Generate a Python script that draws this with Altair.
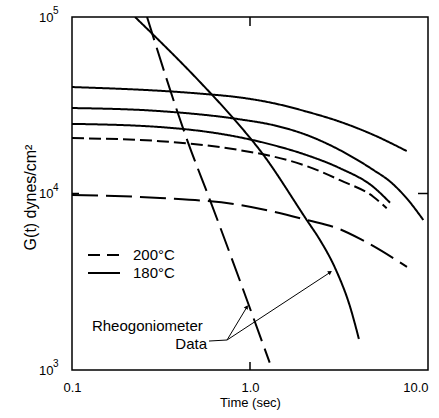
import altair as alt
import pandas as pd

FONT = "Liberation Sans"

# Stress relaxation modulus G(t) (dynes/cm^2) against time (s)
# 180 °C, solid curves
s1_t = [0.1, 0.524, 0.879, 1.352, 2.082, 3.204, 4.928, 7.59]
s1_g = [40100, 36800, 35000, 32500, 29100, 25500, 21500, 17400]
s2_t = [0.1, 0.312, 0.879, 1.352, 2.082, 3.204, 4.928, 6.116, 7.592, 9.41]
s2_g = [30500, 29300, 26300, 24400, 21450, 17600, 13600, 11700, 9390, 7080]
s3_t = [0.1, 0.312, 0.879, 1.352, 2.082, 3.204, 4.928, 6.116]
s3_g = [24800, 23800, 20800, 18800, 16500, 13900, 10900, 8870]
# 200 °C, dashed curves
d1_t = [0.1, 0.312, 0.879, 1.352, 2.082, 3.204, 4.928, 5.861]
d1_g = [20600, 19800, 17600, 16200, 14300, 11900, 9590, 8250]
d2_t = [0.1, 0.312, 0.879, 1.352, 2.082, 3.204, 4.26, 7.62]
d2_g = [9800, 9430, 8610, 7890, 7080, 6270, 5460, 3840]
# Rheogoniometer data
r180_t = [0.226, 0.524, 0.803, 1.168, 2.082, 2.47, 3.04, 3.65, 4.09]
r180_g = [100000, 42800, 26800, 16960, 7080, 5460, 3690, 2280, 1500]
r200_t = [0.264, 0.45, 0.596, 1.29]
r200_g = [100000, 19300, 9180, 1100]

series = [
    ("s1", s1_t, s1_g), ("s2", s2_t, s2_g), ("s3", s3_t, s3_g),
    ("d1", d1_t, d1_g), ("d2", d2_t, d2_g),
    ("r180", r180_t, r180_g), ("r200", r200_t, r200_g),
]
dash_domain = ["s1", "s2", "s3", "r180", "d1", "d2", "r200"]
dash_range = [[1, 0], [1, 0], [1, 0], [1, 0], [12, 5], [26, 8], [24, 8]]

rows = []
for name, ts, gs in series:
    for i, (t, g) in enumerate(zip(ts, gs)):
        rows.append({"series": name, "t": t, "g": g, "i": i})
curves = pd.DataFrame(rows)

x_scale = alt.Scale(type="log", domain=[0.1, 10])
y_scale = alt.Scale(type="log", domain=[1000, 100000])

lines = alt.Chart(curves).mark_line(
    color="black", strokeWidth=2, interpolate="monotone", clip=True
).encode(
    x=alt.X("t:Q", scale=x_scale, axis=alt.Axis(
        values=[0.1, 1, 10], format=".1f", ticks=False, domain=False, grid=False,
        labelPadding=11, labelFontSize=13, labelFont=FONT, labelColor="black",
        labelAlign={"condition": {"test": "datum.value >= 10", "value": "right"}, "value": "center"},
        title="Time (sec)", titleFont=FONT, titleFontSize=13, titleFontWeight="normal",
        titleColor="black", titleY=32, titleBaseline="middle",
    )),
    y=alt.Y("g:Q", scale=y_scale, axis=alt.Axis(
        values=[1000, 10000, 100000], labelExpr="'10'", ticks=False, domain=False,
        grid=False, labelPadding=19, labelFontSize=13, labelFont=FONT, labelColor="black",
        title="G(t) dynes/cm²", titleFont=FONT, titleFontSize=16, titleFontWeight="normal",
        titleColor="black", titleX=-42, titleY=180, titleBaseline="middle",
    )),
    detail="series:N",
    order="i:Q",
    strokeDash=alt.StrokeDash("series:N", scale=alt.Scale(domain=dash_domain, range=dash_range), legend=None),
)

# Powers of ten written as raised exponents beside the "10" labels
exp_g = [1000, 10000, 100000]
exp_txt = ["3", "4", "5"]
exponents = alt.Chart(pd.DataFrame({"g": exp_g, "e": exp_txt})).mark_text(
    font=FONT, fontSize=10, align="left", baseline="middle", dy=-6, color="black"
).encode(y="g:Q", x=alt.value(-19), text="e:N")

# Inward tick marks on all four sides
xt = pd.DataFrame({"t": [1.0]})
yt = pd.DataFrame({"g": [10000]})
tick_style = dict(color="black", strokeWidth=1.5)
tick_bottom = alt.Chart(xt).mark_rule(**tick_style).encode(x="t:Q", y=alt.value(353), y2=alt.value(345))
tick_top = alt.Chart(xt).mark_rule(**tick_style).encode(x="t:Q", y=alt.value(0), y2=alt.value(9))
tick_left = alt.Chart(yt).mark_rule(**tick_style).encode(y="g:Q", x=alt.value(0), x2=alt.value(7))
tick_right = alt.Chart(yt).mark_rule(**tick_style).encode(y="g:Q", x=alt.value(346), x2=alt.value(356))

# Legend
one = pd.DataFrame({"k": [0]})
leg_dash = alt.Chart(one).mark_rule(color="black", strokeWidth=2, strokeDash=[12, 7]).encode(
    x=alt.value(16), x2=alt.value(48), y=alt.value(238))
leg_solid = alt.Chart(one).mark_rule(color="black", strokeWidth=2).encode(
    x=alt.value(16), x2=alt.value(48), y=alt.value(256))
leg_text_style = dict(font=FONT, fontSize=15, align="left", baseline="middle", color="black")
leg_200 = alt.Chart(pd.DataFrame({"label": ["200°C"]})).mark_text(**leg_text_style).encode(
    x=alt.value(61), y=alt.value(238), text="label:N")
leg_180 = alt.Chart(pd.DataFrame({"label": ["180°C"]})).mark_text(**leg_text_style).encode(
    x=alt.value(61), y=alt.value(256), text="label:N")

# Annotation pointing at the rheogoniometer data
ann = pd.DataFrame({
    "t": [0.1294, 0.5733],
    "g": [1775, 1403],
    "label": ["Rheogoniometer", "Data"],
})
ann_left = alt.Chart(ann.iloc[[0]]).mark_text(
    font=FONT, fontSize=15, align="left", baseline="middle", color="black"
).encode(x="t:Q", y="g:Q", text="label:N")
ann_right = alt.Chart(ann.iloc[[1]]).mark_text(
    font=FONT, fontSize=15, align="right", baseline="middle", color="black"
).encode(x="t:Q", y="g:Q", text="label:N")

ptr = pd.DataFrame({
    "t": [0.5886, 0.743, 0.743],
    "g": [1459, 1479, 1479],
    "t2": [0.743, 0.965, 2.85],
    "g2": [1479, 2290, 3600],
})
pointers = alt.Chart(ptr).mark_rule(color="black", strokeWidth=1).encode(
    x="t:Q", y="g:Q", x2="t2:Q", y2="g2:Q")
heads = pd.DataFrame({"t": [0.955, 2.80], "g": [2260, 3570], "ang": [30, 57]})
arrowheads = alt.Chart(heads).mark_point(
    shape="triangle", filled=True, size=22, color="black", opacity=1
).encode(x="t:Q", y="g:Q", angle=alt.Angle("ang:Q", scale=None))

chart = alt.layer(
    lines, exponents, tick_bottom, tick_top, tick_left, tick_right,
    leg_dash, leg_solid, leg_200, leg_180, ann_left, ann_right, pointers, arrowheads,
).properties(
    width=356, height=353,
    autosize=alt.AutoSizeParams(type="none"),
    padding={"left": 72, "top": 17, "right": 11, "bottom": 48},
    background="white",
).configure_view(stroke="black", strokeWidth=1.5)

chart.save("out.html", embed_options={"renderer": "svg", "actions": False})
